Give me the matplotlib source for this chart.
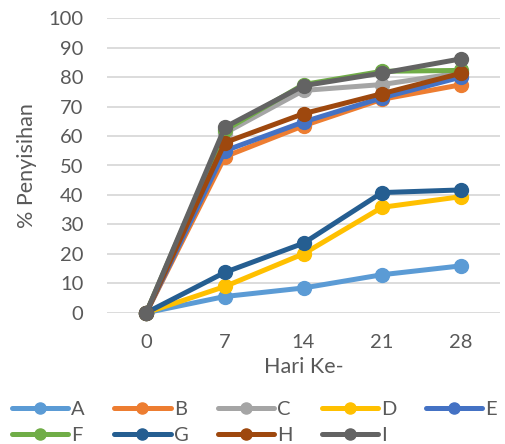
import matplotlib
matplotlib.use("Agg")
import matplotlib.pyplot as plt

days = ["0", "7", "14", "21", "28"]
series_names = ["A", "B", "C", "D", "E", "F", "G", "H", "I"]
A = [0, 5.5, 8.4, 12.9, 15.9]
B = [0, 53.0, 63.5, 72.5, 77.4]
C = [0, 61.0, 75.5, 77.5, 81.5]
D = [0, 8.9, 20.0, 35.8, 39.4]
E = [0, 55.0, 64.8, 73.0, 80.0]
F = [0, 62.0, 77.5, 82.0, 82.3]
G = [0, 13.7, 23.6, 40.8, 41.7]
H = [0, 57.8, 67.6, 74.4, 81.3]
I = [0, 63.0, 77.1, 81.4, 86.2]
values = [A, B, C, D, E, F, G, H, I]

colors = ["#5B9BD5", "#ED7D31", "#A5A5A5", "#FFC000", "#4472C4",
          "#70AD47", "#255E91", "#9E480E", "#636363"]

text_color = "#595959"
plt.rcParams["font.family"] = ["Lato", "DejaVu Sans"]

fig = plt.figure(figsize=(5.05, 4.44), dpi=100)
ax = fig.add_axes([107 / 505, (444 - 312.7) / 444, 393 / 505, (312.7 - 18.3) / 444])

x = list(range(len(days)))
handles = []
for name, vals, c in zip(series_names, values, colors):
    h, = ax.plot(x, vals, color=c, lw=3.6, marker="o", ms=10, label=name,
                 clip_on=False, solid_capstyle="round")
    handles.append(h)

ax.set_xlim(-0.5, len(days) - 0.5)
ax.set_ylim(0, 100)
ax.set_yticks(range(0, 101, 10))
ax.set_xticks(x)
ax.set_xticklabels(days)
ax.yaxis.grid(True, color="#D9D9D9", lw=1.3)
ax.set_axisbelow(True)
for s in ax.spines.values():
    s.set_visible(False)
ax.tick_params(axis="both", length=0, labelsize=14.5, colors=text_color)
ax.tick_params(axis="y", pad=17)
ax.tick_params(axis="x", pad=15)

ax.set_ylabel("% Penyisihan", fontsize=15.5, color=text_color, labelpad=8)
ax.set_xlabel("Hari Ke-", fontsize=15.5, color=text_color, labelpad=5)

# Legend fills row by row: A-E on top, F-I beneath
ncol = 5
order = []
for c in range(ncol):
    for r in range(2):
        i = r * ncol + c
        if i < len(handles):
            order.append(i)
fig.legend([handles[i] for i in order], [series_names[i] for i in order],
           loc="lower left", bbox_to_anchor=(12 / 505, 0.0), ncol=ncol,
           frameon=False, fontsize=14.5, labelcolor=text_color,
           borderpad=0.0, borderaxespad=0.0,
           handlelength=2.8, handletextpad=0.15, columnspacing=1.45,
           labelspacing=0.45, markerscale=0.8)

fig.savefig("out.png", dpi=100)
